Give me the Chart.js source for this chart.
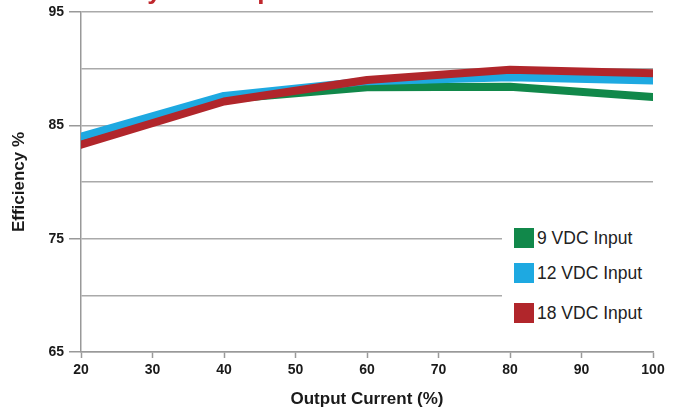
<!DOCTYPE html>
<html>
<head>
<meta charset="utf-8" />
<script src="https://cdn.jsdelivr.net/npm/chart.js@4.4.1/dist/chart.umd.min.js"></script>
<style>
  html, body { margin: 0; padding: 0; background: #fff; }
  .chart_wrap { position: relative; width: 681px; height: 412px; }
  .legend_box {
    position: absolute; left: 502px; top: 214px; width: 160px; height: 122px;
    background: #fff; font-family: "Liberation Sans", Arial, sans-serif;
    font-size: 17.5px; color: #222;
  }
  .legend_item { position: absolute; left: 12px; height: 20px; line-height: 20px; white-space: nowrap; }
  .legend_swatch { display: inline-block; width: 20px; height: 20px; vertical-align: top; margin-right: 3px; }
</style>
</head>
<body>
<div class="chart_wrap">
  <canvas id="chart" width="681" height="412"></canvas>
  <div class="legend_box" id="legend"></div>
</div>
<script>
const outputCurrent = [20, 40, 60, 80, 100];
const vdc9 = [83.7, 87.3, 88.35, 88.4, 87.5];
const vdc12 = [84.0, 87.6, 88.9, 89.25, 88.95];
const vdc18 = [83.3, 87.1, 89.0, 89.9, 89.6];
const yLabels = [65, 75, 85, 95];
const seriesNames = ["9 VDC Input", "12 VDC Input", "18 VDC Input"];
const seriesColors = ["#11884a", "#1ea9e1", "#b1262b"];

const toPoints = (vals) => vals.map((v, i) => ({ x: outputCurrent[i], y: v }));

// legend rows (HTML, sits on top of the grid like the original)
const legendTops = [14, 49, 89];
const legendEl = document.getElementById("legend");
seriesNames.forEach((name, i) => {
  const row = document.createElement("div");
  row.className = "legend_item";
  row.style.top = legendTops[i] + "px";
  row.innerHTML =
    '<span class="legend_swatch" style="background:' + seriesColors[i] + '"></span>' + name;
  legendEl.appendChild(row);
});

// cut-off heading at the very top of the picture
const headingPlugin = {
  id: "heading",
  afterDraw(chart) {
    const c = chart.ctx;
    c.save();
    c.fillStyle = "#c0272d";
    c.font = "bold 26px 'Liberation Sans', Arial, sans-serif";
    c.textBaseline = "alphabetic";
    c.fillText("Efficiency vs. Output Current", 39, -1);
    c.restore();
  },
};

const lineStyle = (i, order) => ({
  label: seriesNames[i],
  borderColor: seriesColors[i],
  backgroundColor: seriesColors[i],
  borderWidth: 8,
  borderCapStyle: "round",
  borderJoinStyle: "round",
  pointRadius: 0,
  tension: 0,
  order: order,
});

const ctx = document.getElementById("chart").getContext("2d");
new Chart(ctx, {
  type: "line",
  data: {
    datasets: [
      { ...lineStyle(0, 3), data: toPoints(vdc9) },
      { ...lineStyle(1, 2), data: toPoints(vdc12) },
      { ...lineStyle(2, 1), data: toPoints(vdc18) },
    ],
  },
  options: {
    responsive: false,
    animation: false,
    layout: { padding: { left: 0, right: 28, top: 12, bottom: 0 } },
    plugins: { legend: { display: false }, tooltip: { enabled: false } },
    scales: {
      x: {
        type: "linear",
        min: 20,
        max: 100,
        ticks: {
          stepSize: 10,
          color: "#1a1a1a",
          padding: 4,
          maxRotation: 0,
          font: { family: "'Liberation Sans', Arial, sans-serif", size: 14, weight: "bold" },
        },
        grid: { drawOnChartArea: false, drawTicks: true, tickLength: 6, tickColor: "#999", tickWidth: 1.5 },
        border: { display: true, color: "#999", width: 1.5 },
        title: {
          display: true,
          text: "Output Current (%)",
          color: "#1a1a1a",
          padding: { top: 0, bottom: 2 },
          font: { family: "'Liberation Sans', Arial, sans-serif", size: 17, weight: "bold" },
        },
        afterFit: (scale) => {
          scale.height = 60;
          scale.paddingLeft = 0;
          scale.paddingRight = 0;
        },
      },
      y: {
        min: 65,
        max: 95,
        ticks: {
          stepSize: 5,
          color: "#1a1a1a",
          padding: 5,
          font: { family: "'Liberation Sans', Arial, sans-serif", size: 14, weight: "bold" },
          callback: (val) => (yLabels.includes(val) ? String(val) : ""),
        },
        grid: {
          color: "#aaa",
          lineWidth: 1.5,
          tickLength: 12,
          tickColor: (c) => (c.tick && yLabels.includes(c.tick.value) ? "#999" : "rgba(0,0,0,0)"),
        },
        border: { display: true, color: "#999", width: 1.5 },
        title: {
          display: true,
          text: "Efficiency %",
          color: "#1a1a1a",
          padding: { top: 9, bottom: 0 },
          font: { family: "'Liberation Sans', Arial, sans-serif", size: 17, weight: "bold" },
        },
        afterFit: (scale) => {
          scale.width = 81;
          scale.paddingTop = 0;
          scale.paddingBottom = 0;
        },
      },
    },
  },
  plugins: [headingPlugin],
});
</script>
</body>
</html>
